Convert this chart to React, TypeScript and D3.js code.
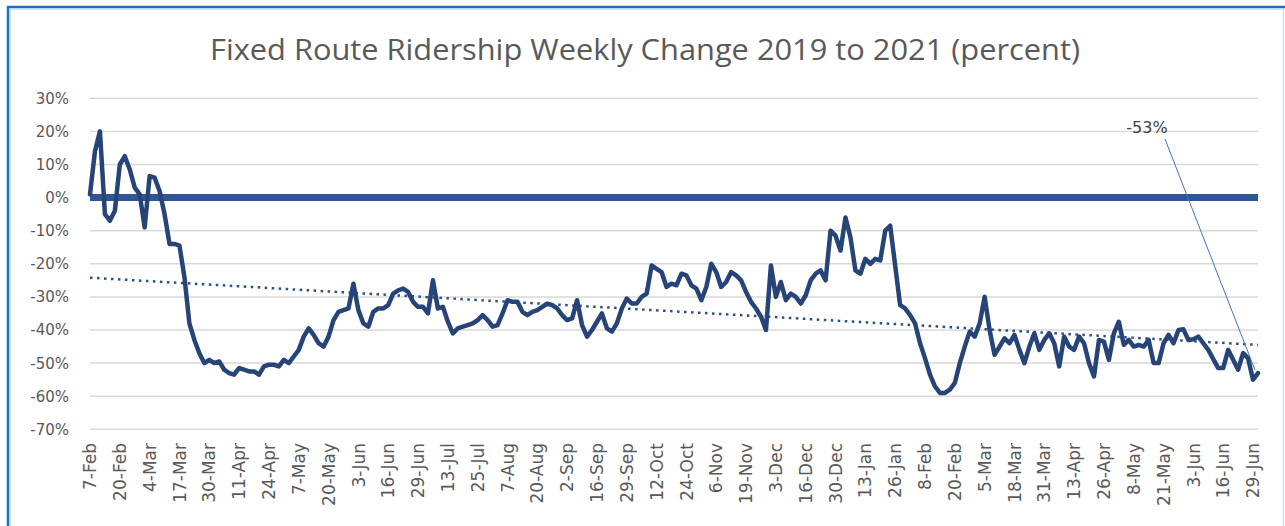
import React from "react";
import * as d3 from "d3";

// category labels shown on the x axis, one every STEP points
const dateLabels = [
  "7-Feb", "20-Feb", "4-Mar", "17-Mar", "30-Mar", "11-Apr", "24-Apr", "7-May", "20-May", "3-Jun",
  "16-Jun", "29-Jun", "13-Jul", "25-Jul", "7-Aug", "20-Aug", "2-Sep", "16-Sep", "29-Sep", "12-Oct",
  "24-Oct", "6-Nov", "19-Nov", "3-Dec", "16-Dec", "30-Dec", "13-Jan", "26-Jan", "8-Feb", "20-Feb",
  "5-Mar", "18-Mar", "31-Mar", "13-Apr", "26-Apr", "8-May", "21-May", "3-Jun", "16-Jun", "29-Jun",
];
const STEP = 6;

// weekly change vs 2019, percent
const ridership = [
  1, 14, 20, -5, -7, -4, 10, 12.5, 8.5, 3, 1, -9,
  6.5, 6, 2, -5, -14, -14, -14.5, -24, -38, -43, -47, -50,
  -49, -50, -49.5, -52, -53, -53.5, -51.5, -52, -52.5, -52.5, -53.5, -51,
  -50.5, -50.5, -51, -49, -50, -48, -46, -42, -39.5, -41.5, -44, -45,
  -42, -37, -34.5, -34, -33.5, -26, -34, -38, -39, -34.5, -33.5, -33.5,
  -32.5, -29, -28, -27.5, -28.5, -31.5, -33, -33, -35, -25, -33.5, -33,
  -37.5, -41, -39.5, -39, -38.5, -38, -37, -35.5, -37, -39, -38.5, -35,
  -31, -31.5, -31.5, -34.5, -35.5, -34.5, -34, -33, -32, -32.5, -33.5, -35.5,
  -37, -36.5, -31, -38.5, -42, -40, -37.5, -35, -39.5, -40.5, -38, -33.5,
  -30.5, -32, -32, -30, -29, -20.5, -21.5, -22.5, -27, -26, -26.5, -23,
  -23.5, -26.5, -27.5, -31, -27, -20, -22.5, -27, -25.5, -22.5, -23.5, -25,
  -28.5, -31.5, -33.5, -36, -40, -20.5, -30, -25.5, -31, -29, -30, -32,
  -29.5, -25, -23, -22, -25, -10, -11.5, -16, -6, -12, -22, -23,
  -18.5, -20, -18.5, -19, -10, -8.5, -20.5, -32.5, -33.5, -35.5, -38, -44,
  -48.5, -53.5, -57, -59, -59, -58, -56, -50, -45, -40.5, -42, -38,
  -30, -40, -47.5, -45, -42.5, -44, -41.5, -46, -50, -45, -41, -46,
  -43, -41, -44, -51, -42, -45, -46, -42, -44, -50, -54, -43,
  -43.5, -49, -41, -37.5, -44.5, -43, -45, -44.5, -45, -43, -50, -50,
  -44, -41.5, -44, -40, -39.8, -43, -42.8, -42, -44, -46, -48.8, -51.5,
  -51.5, -46, -49, -52, -47, -48.5, -55, -53,
];

const yTicks = [30, 20, 10, 0, -10, -20, -30, -40, -50, -60, -70];
const lastLabel = "-53%";

const W = 1285;
const H = 526;
const plot = { left: 90, right: 1258, top: 98.3, bottom: 429.3 };

export default function App() {
  const x = d3.scaleLinear().domain([0, ridership.length - 1]).range([plot.left, plot.right]);
  const y = d3.scaleLinear().domain([-70, 30]).range([plot.bottom, plot.top]);

  const line = d3
    .line<number>()
    .x((_, i) => x(i))
    .y((d) => y(d));

  // linear trendline (least squares), as Excel draws it
  const idx = ridership.map((_, i) => i);
  const mx = d3.mean(idx) as number;
  const my = d3.mean(ridership) as number;
  const slope =
    d3.sum(idx, (i) => (i - mx) * (ridership[i] - my)) / d3.sum(idx, (i) => (i - mx) * (i - mx));
  const icpt = my - slope * mx;
  const lastI = ridership.length - 1;

  const labelFont = "'DejaVu Sans', sans-serif";

  return (
    <svg
      width={W}
      height={H}
      style={{ position: "absolute", left: 0, top: 0, background: "#fff" }}
    >
      {/* frame */}
      <line x1={7} x2={W} y1={7} y2={7} stroke="#1873C6" strokeWidth={2.5} />
      <line x1={7} x2={W} y1={9} y2={9} stroke="#BBD8F2" strokeWidth={1.5} />
      <line x1={8} x2={8} y1={6} y2={H} stroke="#1873C6" strokeWidth={2.5} />
      <line x1={10} x2={10} y1={9} y2={H} stroke="#BBD8F2" strokeWidth={1.5} />
      <line x1={1283.5} x2={1283.5} y1={9} y2={H} stroke="#C9E0F5" strokeWidth={1.5} />

      <text
        x={645}
        y={60}
        textAnchor="middle"
        fontFamily="'Liberation Sans Narrow', 'Open Sans', sans-serif"
        fontSize={29}
        fill="#595959"
        textLength={870}
        lengthAdjust="spacingAndGlyphs"
      >
        Fixed Route Ridership Weekly Change 2019 to 2021 (percent)
      </text>

      {/* gridlines and y labels */}
      {yTicks.map((t) => (
        <g key={t}>
          <line
            x1={plot.left}
            x2={plot.right}
            y1={y(t)}
            y2={y(t)}
            stroke="#D9D9D9"
            strokeWidth={1.5}
          />
          <text
            x={69}
            y={y(t)}
            dy="0.36em"
            textAnchor="end"
            fontFamily={labelFont}
            fontSize={15}
            fill="#595959"
          >
            {t}%
          </text>
        </g>
      ))}

      {/* x labels */}
      {dateLabels.map((d, k) => (
        <text
          key={k}
          transform={`translate(${x(k * STEP)},443) rotate(-90)`}
          dy="0.36em"
          textAnchor="end"
          fontFamily={labelFont}
          fontSize={17}
          fill="#595959"
        >
          {d}
        </text>
      ))}

      {/* zero baseline */}
      <line x1={plot.left} x2={plot.right} y1={y(0)} y2={y(0)} stroke="#2F5597" strokeWidth={7} />

      {/* trendline */}
      <line
        x1={x(0)}
        x2={x(lastI)}
        y1={y(icpt)}
        y2={y(icpt + slope * lastI)}
        stroke="#2E4F86"
        strokeWidth={2.5}
        strokeDasharray="2.5,4.5"
      />

      <path
        d={line(ridership) ?? ""}
        fill="none"
        stroke="#264478"
        strokeWidth={4.5}
        strokeLinejoin="round"
        strokeLinecap="round"
      />

      {/* data label on last point */}
      <line
        x1={1165}
        y1={139}
        x2={x(lastI) - 3}
        y2={y(ridership[lastI]) - 3}
        stroke="#4472C4"
        strokeWidth={1}
      />
      <text
        x={1147}
        y={127}
        dy="0.36em"
        textAnchor="middle"
        fontFamily={labelFont}
        fontSize={16}
        fill="#404040"
      >
        {lastLabel}
      </text>
    </svg>
  );
}
